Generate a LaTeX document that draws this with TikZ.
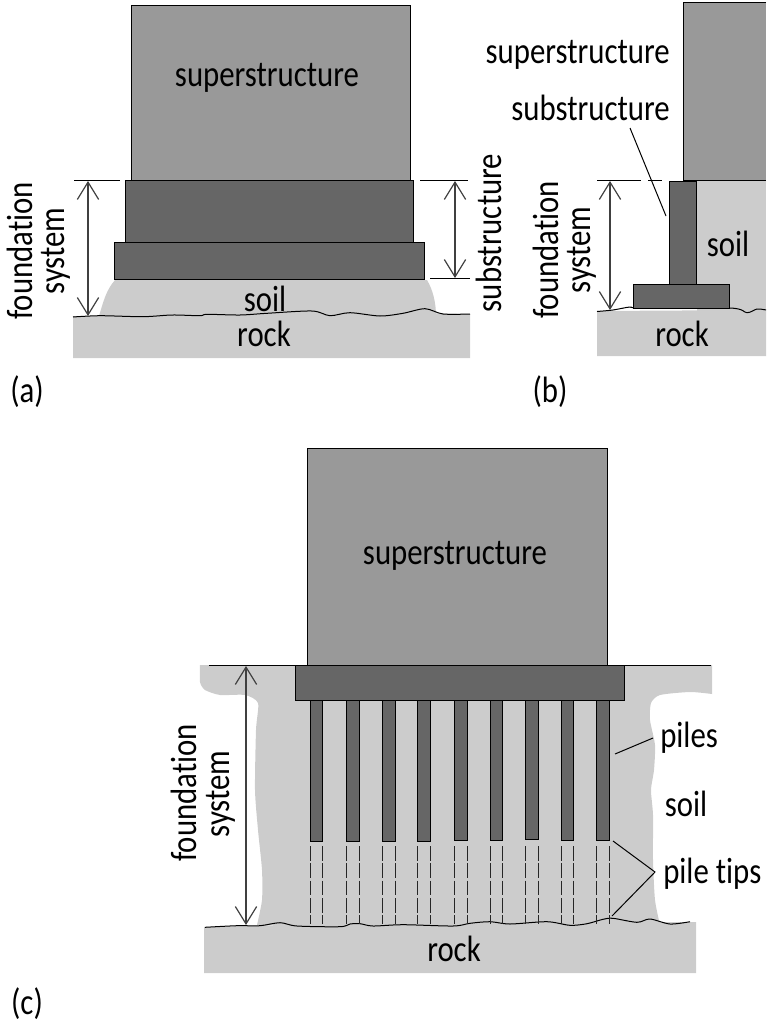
\documentclass[tikz,border=0pt]{standalone}
\usepackage{fontspec}
\setmainfont{Carlito}[FakeStretch=0.84,Ligatures=NoCommon]
\usetikzlibrary{arrows.meta}
\definecolor{super}{HTML}{999999}
\definecolor{dark}{HTML}{666666}
\definecolor{soil}{HTML}{CCCCCC}
\tikzset{
  superblock/.style={draw=black,line width=.7pt,fill=super},
  darkblock/.style={draw=black,line width=.7pt,fill=dark},
  ground/.style={fill=soil,draw=none},
  thin line/.style={draw=black,line width=.75pt},
  dim/.style={draw=black!75,line width=.9pt,{Straight Barb[length=13pt,width=16pt]}-{Straight Barb[length=13pt,width=16pt]}},
  tipline/.style={draw=black!85,line width=.7pt,dash pattern=on 11pt off 2pt},
  lab/.style={inner sep=0pt,font=\fontsize{27.5}{27.5}\selectfont,text=black},
  vlab/.style={lab,rotate=90},
}
\newcommand{\pilegroup}[2]{%
  \draw[darkblock] (#1,700) rectangle (#1+12.7,#2);
  \draw[tipline] (#1,846) -- (#1,924);
  \draw[tipline] (#1+12.7,846) -- (#1+12.7,924);
}
\begin{document}
\begin{tikzpicture}[x=.75pt,y=-.75pt]
\useasboundingbox (0,0) rectangle (771,1024);
% ---- panel (a)
\fill[ground] (115,280) .. controls (106,290) and (103,303) .. (99,316) -- (436,316) .. controls (436,303) and (433,290) .. (427,280) -- cycle;
\fill[ground] (73,316) -- (73,358) -- (470,358) -- (470,314) -- (312,311) -- (100,316) -- cycle;
\draw[thin line] plot[smooth,tension=.5] coordinates {(73,317) (100,315.7) (143,316.7) (172,315) (200,315.7) (207,314.3) (240,315) (267,313.3) (312,311) (330,315.7) (350,312.7) (380,316) (403,313.3) (425,308.7) (443,314) (470,314)};
\draw[superblock] (131,5) rectangle (410,180);
\draw[darkblock] (125.7,180) rectangle (413,242);
\draw[darkblock] (114.5,242) rectangle (424,279.5);
\coordinate (a1) at (74,180.5); \coordinate (a2) at (120,180.5);
\coordinate (a3) at (420,180.5); \coordinate (a4) at (468,180.5);
\coordinate (a5) at (430,278.5); \coordinate (a6) at (470,278.5);
\coordinate (a7) at (88,181); \coordinate (a8) at (88,316);
\coordinate (a9) at (455,181); \coordinate (a10) at (455,278);
\draw[thin line] (a1) -- (a2);
\draw[thin line] (a3) -- (a4);
\draw[thin line] (a5) -- (a6);
\draw[dim] (a7) -- (a8);
\draw[dim] (a9) -- (a10);
\node[lab] (aSuper) at (267,78) {superstructure};
\node[vlab] (aFound) at (20,251) {foundation};
\node[vlab] (aSys) at (56,251) {system};
\node[vlab] (aSub) at (489,233) {substructure};
\node[lab] (aSoil) at (265,299) {soil};
\node[lab] (aRock) at (264,334) {rock};
\node[lab] (aTag) at (27,392) {(a)};
% ---- panel (b)
\fill[ground] (697,180) rectangle (766,312);
\fill[ground] (597,311) -- (597,356) -- (766,356) -- (766,310) -- cycle;
\draw[thin line] plot[smooth,tension=.5] coordinates {(597,311.5) (613,310) (630,307) (640,308) (730,308) (747,312.7) (757,309) (766,310)};
\fill[super] (683,3) rectangle (766,180);
\draw[thin line] (766,3) -- (683,3) -- (683,180) -- (766,180);
\draw[darkblock] (669,181) rectangle (696,284);
\draw[darkblock] (633,284) rectangle (729,308);
\coordinate (b1) at (597,180.5); \coordinate (b2) at (641,180.5);
\coordinate (b3) at (648,180.5); \coordinate (b4) at (662,180.5);
\coordinate (b5) at (610,181); \coordinate (b6) at (610,310);
\coordinate (b7) at (630,128); \coordinate (b8) at (666,216);
\draw[thin line] (b1) -- (b2);
\draw[thin line] (b3) -- (b4);
\draw[dim] (b5) -- (b6);
\draw[thin line] (b7) -- (b8);
\node[lab,anchor=east] (bSuper) at (670,55) {superstructure};
\node[lab,anchor=east] (bSub) at (670,108) {substructure};
\node[vlab] (bFound) at (546,250) {foundation};
\node[vlab] (bSys) at (582,250) {system};
\node[lab] (bSoil) at (728,244) {soil};
\node[lab] (bRock) at (682,334) {rock};
\node[lab] (bTag) at (550,392) {(b)};
% ---- panel (c)
\fill[ground] plot[smooth,tension=.4] coordinates {(200,665) (200,682) (205,690) (220,695) (245,695) (258,703) (256,730) (255,790) (258,830) (262,870) (262,900) (257,925)} -- plot[smooth,tension=.4] coordinates {(660,925) (655,900) (653,860) (653,815) (651,790) (654,770) (655,745) (650,720) (651,703) (660,695) (690,692) (712,694)} -- (712,665) -- cycle;
\fill[ground] (204,927) -- (204,973) -- (696,973) -- (696,922) -- (400,922) -- cycle;
\draw[thin line] plot[smooth,tension=.5] coordinates {(205,927.3) (237,925.7) (260,925.7) (280,922.7) (297,926) (340,926.7) (350,924) (360,923.7) (373,926) (403,924.7) (453,926) (470,923.3) (490,921.7) (510,924) (547,921.7) (570,925.3) (587,923.7) (603,919.3) (613,918.3) (637,922.3) (650,919) (670,924) (690,921.7)};
\draw[superblock] (307,448) rectangle (607,665);
\coordinate (c1) at (209,665); \coordinate (c2) at (711,665);
\draw[thin line] (c1) -- (c2);
\draw[darkblock] (295,665) rectangle (624,700);
\pilegroup{310}{841}
\pilegroup{346.7}{841}
\pilegroup{382.3}{841}
\pilegroup{417.3}{841}
\pilegroup{454.3}{840}
\pilegroup{490}{840}
\pilegroup{525.7}{839}
\pilegroup{561}{840}
\pilegroup{596.3}{840}
\coordinate (c3) at (246,666); \coordinate (c4) at (246,925);
\coordinate (c5) at (615,754); \coordinate (c6) at (653,738);
\coordinate (c7) at (613,841); \coordinate (c8) at (655,872); \coordinate (c9) at (612,916);
\draw[dim] (c3) -- (c4);
\draw[thin line] (c5) -- (c6);
\draw[thin line] (c7) -- (c8) -- (c9);
\node[lab] (cSuper) at (455,556) {superstructure};
\node[vlab] (cFound) at (184,793) {foundation};
\node[vlab] (cSys) at (221,794) {system};
\node[lab,anchor=west] (cPiles) at (660,738) {piles};
\node[lab] (cSoil) at (686,804) {soil};
\node[lab,anchor=west] (cTips) at (663,874) {pile tips};
\node[lab] (cRock) at (454,949) {rock};
\node[lab] (cTag) at (27,1004) {(c)};
\end{tikzpicture}
\end{document}
